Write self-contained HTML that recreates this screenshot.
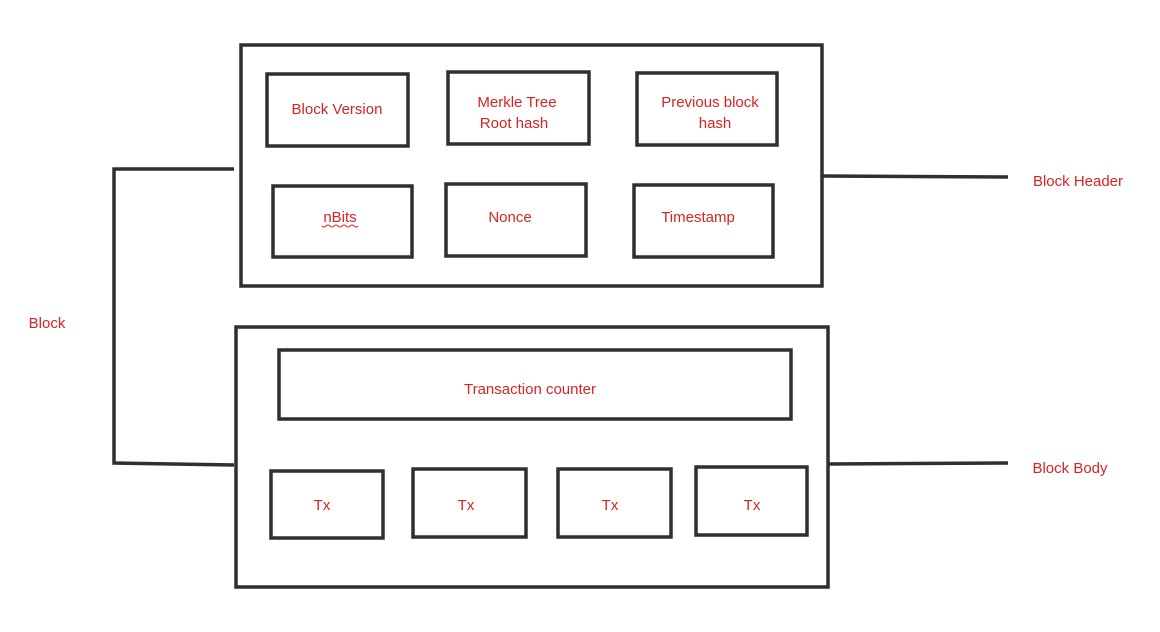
<!DOCTYPE html>
<html><head><style>html,body{margin:0;padding:0;background:#fff;}svg{display:block}</style></head>
<body>
<svg width="1160" height="632" xmlns="http://www.w3.org/2000/svg">
<g fill="none" stroke="#2f2f2f" stroke-width="3.5">
<rect x="241" y="45" width="581" height="241"/>
<rect x="236" y="327" width="592" height="260"/>
<rect x="267" y="74" width="141" height="72"/>
<rect x="448" y="72" width="141" height="72"/>
<rect x="637" y="73" width="140" height="72"/>
<rect x="273" y="186" width="139" height="71"/>
<rect x="446" y="184" width="140" height="72"/>
<rect x="634" y="185" width="139" height="72"/>
<rect x="279" y="350" width="512" height="69"/>
<rect x="271" y="471" width="112" height="67"/>
<rect x="413" y="469" width="113" height="68"/>
<rect x="558" y="469" width="113" height="68"/>
<rect x="696" y="467" width="111" height="68"/>
<polyline points="234,169 114,169 114,463 234,465"/>
<line x1="822" y1="176" x2="1008" y2="177"/>
<line x1="828" y1="464" x2="1008" y2="463"/>
</g>
<g fill="#d42424" font-family="Liberation Sans, sans-serif" font-size="15" text-anchor="middle">
<text x="337" y="114">Block Version</text>
<text x="517" y="107">Merkle Tree</text>
<text x="514" y="128">Root hash</text>
<text x="710" y="107">Previous block</text>
<text x="715" y="128">hash</text>
<text x="340" y="222">nBits</text>
<text x="510" y="222">Nonce</text>
<text x="698" y="222">Timestamp</text>
<text x="530" y="394">Transaction counter</text>
<text x="322" y="510">Tx</text>
<text x="466" y="510">Tx</text>
<text x="610" y="510">Tx</text>
<text x="752" y="510">Tx</text>
<text x="1078" y="186">Block Header</text>
<text x="1070" y="473">Block Body</text>
<text x="47" y="328">Block</text>
</g>
<path d="M322,226 q2,2 4,0 t4,0 t4,0 t4,0 t4,0 t4,0 t4,0 t4,0 t4,0" stroke="#d42424" stroke-width="1" fill="none"/>
</svg>
</body></html>
